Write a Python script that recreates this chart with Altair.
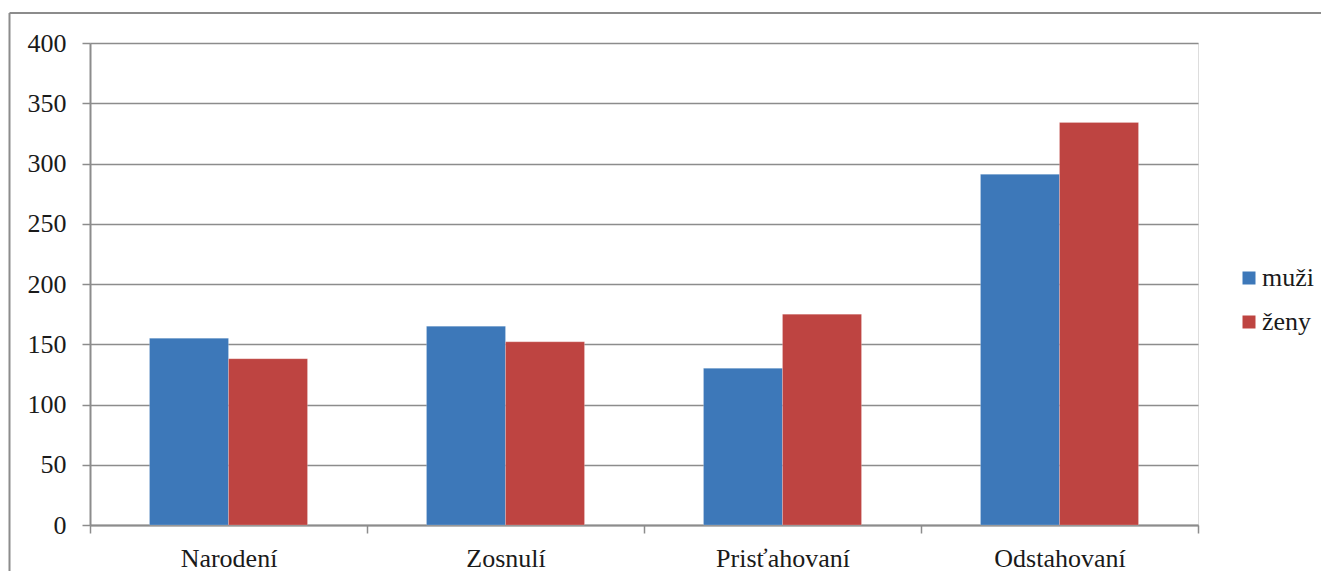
import altair as alt
import pandas as pd

categories = ["Narodení", "Zosnulí", "Prisťahovaní", "Odstahovaní"]
series = ["muži", "ženy"]
muzi = [155, 165, 130, 291]
zeny = [138, 152, 175, 334]
y_ticks = [0, 50, 100, 150, 200, 250, 300, 350, 400]
colors = ["#3D78B9", "#BE4441"]

rows = []
for c, m, z in zip(categories, muzi, zeny):
    rows.append({"kategoria": c, "pohlavie": "muži", "hodnota": m})
    rows.append({"kategoria": c, "pohlavie": "ženy", "hodnota": z})
df = pd.DataFrame(rows)

FONT = "Liberation Serif"
GRID = "#8c8c8c"

bars = alt.Chart(df).mark_bar(stroke="#ffffff", strokeWidth=0.4, strokeOpacity=0.5).encode(
    x=alt.X(
        "kategoria:N",
        sort=categories,
        scale=alt.Scale(paddingInner=0, paddingOuter=0),
        axis=alt.Axis(
            title=None,
            labelAngle=0,
            tickBand="extent",
            ticks=True,
            tickSize=8,
            tickColor=GRID,
            tickWidth=1.5,
            domainColor=GRID,
            domainWidth=2,
            labelFont=FONT,
            labelFontSize=26,
            labelColor="#1a1a1a",
            labelPadding=12,
            grid=False,
        ),
    ),
    xOffset=alt.XOffset(
        "pohlavie:N",
        sort=series,
        scale=alt.Scale(paddingInner=0, paddingOuter=0.753),
    ),
    y=alt.Y(
        "hodnota:Q",
        scale=alt.Scale(domain=[0, 400], nice=False),
        axis=alt.Axis(
            title=None,
            values=y_ticks,
            grid=True,
            gridColor=GRID,
            gridWidth=1.6,
            tickSize=8,
            tickColor=GRID,
            tickWidth=1.5,
            domainColor=GRID,
            domainWidth=2,
            labelFont=FONT,
            labelFontSize=26,
            labelColor="#1a1a1a",
            labelPadding=16,
        ),
    ),
    color=alt.Color(
        "pohlavie:N",
        sort=series,
        scale=alt.Scale(domain=series, range=colors),
        legend=alt.Legend(
            title=None,
            orient="none",
            legendX=1146,
            legendY=222,
            symbolType="square",
            symbolSize=169,
            symbolStrokeWidth=0,
            labelFont=FONT,
            labelFontSize=26,
            labelColor="#1a1a1a",
            labelOffset=0,
            rowPadding=18,
        ),
    ),
)

frame_df = pd.DataFrame({"a": [0]})
left_border = alt.Chart(frame_df).mark_rule(color="#8c8c8c", strokeWidth=2).encode(
    x=alt.value(-80.5), y=alt.value(-30), y2=alt.value(700)
)
top_border = alt.Chart(frame_df).mark_rule(color="#8c8c8c", strokeWidth=2).encode(
    x=alt.value(-80.5), x2=alt.value(1400), y=alt.value(-30)
)

chart = alt.layer(bars, left_border, top_border).properties(
    width=1108,
    height=482,
    autosize=alt.AutoSizeParams(type="none"),
    padding={"left": 82, "top": 35, "right": 123, "bottom": 46},
).configure_view(stroke=None).configure(background="#ffffff")

chart.save("out.html", embed_options={"renderer": "svg", "actions": False})
